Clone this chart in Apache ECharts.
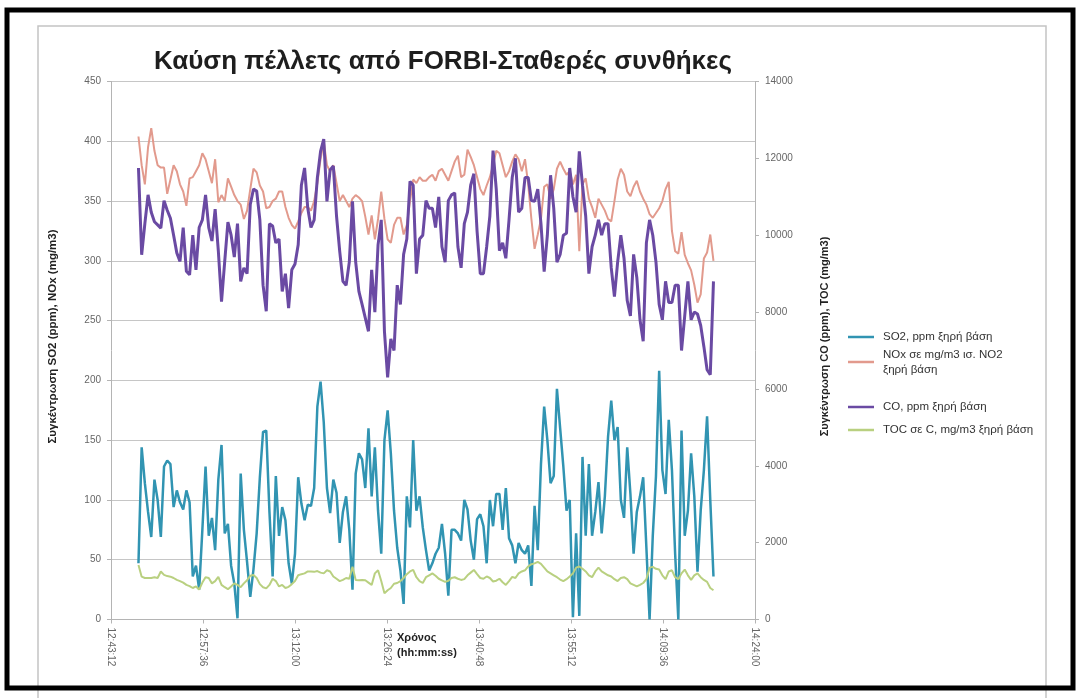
<!DOCTYPE html>
<html>
<head>
<meta charset="utf-8">
<script src="https://cdn.jsdelivr.net/npm/echarts@6/dist/echarts.min.js"></script>
<style>
  html, body { margin: 0; padding: 0; background: #ffffff; }
  #chart { width: 1080px; height: 698px; }
</style>
</head>
<body>
<div id="chart"></div>
<script>
// Sampling: one reading every 30 s from 12:47:30
const START_SEC = 12 * 3600 + 47 * 60 + 30;
const STEP_SEC = 30;

// SO2, ppm (left axis)
const so2 = [
  47,144,114,90,69,117,100,69,128,133,
  130,94,108,98,92,108,98,36,45,25,
  75,128,70,85,58,117,146,72,80,45,
  30,1,122,75,48,19,42,72,119,157,
  158,90,36,120,70,94,83,47,30,55,
  119,97,83,96,95,110,178,199,165,110,
  89,117,106,64,90,103,75,25,122,139,
  134,110,160,103,144,91,55,150,175,139,
  91,60,41,13,103,77,150,91,103,77,
  58,41,47,55,60,80,55,20,75,75,
  72,66,100,92,66,50,84,88,78,47,
  100,78,105,105,75,110,68,62,47,64,
  58,55,62,28,95,58,130,178,150,114,
  120,193,160,128,91,100,2,72,3,136,
  70,130,70,90,115,72,103,153,183,150,
  161,100,85,144,105,55,90,103,119,60,
  0,70,120,208,125,105,167,125,55,0,
  158,70,91,139,103,40,91,125,170,100,
  36
];

// NOx, mg/m3 as NO2 (left axis)
const nox = [
  404,380,364,395,411,392,380,378,378,356,
  368,380,375,364,358,346,369,370,375,380,
  390,385,375,365,385,349,355,350,369,362,
  355,350,347,335,342,360,377,374,363,358,
  344,345,350,352,358,358,345,336,330,327,
  333,340,345,345,342,350,365,385,400,380,
  375,380,365,350,355,350,345,352,355,353,
  350,337,322,338,318,335,358,335,318,315,
  330,336,336,322,330,350,368,365,370,367,
  367,370,372,367,375,377,372,367,375,383,
  388,370,372,393,387,380,370,360,355,363,
  370,380,392,390,380,370,375,383,389,385,
  375,385,364,335,310,322,335,362,364,352,
  360,377,383,377,372,375,364,372,308,364,
  369,352,345,336,352,347,342,335,333,350,
  368,377,372,358,354,362,367,358,352,347,
  339,336,340,344,350,360,366,325,308,306,
  324,305,298,292,280,265,272,302,307,322,
  300
];

// CO, ppm (right axis)
const co = [
  11750,9490,10300,11050,10600,10350,10270,10185,10900,10650,
  10440,10000,9540,9320,10200,9060,8970,10000,9100,10200,
  10400,11050,10200,9850,10680,9590,8270,9320,10340,10000,
  9430,10300,8800,9150,9000,10800,11200,11150,10400,8700,
  8020,10300,10240,9800,9900,8535,9000,8100,9100,9250,
  9750,11300,11750,10700,10200,10400,11500,12180,12500,10880,
  11700,11800,10500,9580,8800,8700,9300,10880,9300,8540,
  8200,7850,7500,9100,8000,9750,10400,7500,6300,7300,
  7000,8700,8200,9500,9900,11400,11300,9000,9900,10000,
  10900,10700,10700,10200,11000,9700,9300,10900,11050,11100,
  9700,9150,10300,10600,11300,11600,10100,9000,9000,9700,
  10500,12200,11200,9600,9800,9400,10400,11500,12000,10600,
  10700,11500,11500,10900,10880,11200,10300,9050,10000,11560,
  10700,9300,9500,10000,10050,11750,11000,10600,12180,11300,
  10500,9000,9700,10000,10400,10000,10300,10300,9150,8400,
  9300,10000,9400,8300,7900,9500,8900,7800,7240,9800,
  10400,10000,9300,8200,7800,8800,8250,8250,8700,8700,
  7000,7900,8800,7800,8000,7950,7650,7100,6500,6370,
  8800
];

// TOC as C, mg/m3 (right axis)
const toc = [
  1418,1115,1080,1080,1080,1100,1080,1250,1160,1130,
  1115,1080,1030,1000,960,900,870,820,860,780,
  960,1100,1080,940,1000,1110,900,840,790,860,
  940,900,840,940,1020,1140,1160,1080,920,840,
  810,900,1060,1000,860,900,820,850,920,1000,
  1150,1180,1200,1250,1250,1240,1260,1220,1200,1280,
  1250,1120,1060,1000,1030,1080,1060,1370,1030,1020,
  1030,1020,960,900,1200,1280,1000,680,760,820,
  930,950,1000,1080,1180,1250,1290,1100,1000,950,
  1100,1150,1200,1140,1060,1020,980,1010,1080,1100,
  1060,1030,1050,1150,1220,1290,1180,1080,1060,1120,
  1080,990,1010,1060,970,900,1000,1110,1080,1200,
  1250,1280,1380,1440,1460,1500,1450,1350,1250,1200,
  1150,1100,1040,1000,1050,1120,1200,1350,1380,1320,
  1250,1150,1100,1250,1350,1250,1200,1150,1120,1050,
  1000,1080,1100,1050,940,900,860,900,950,1050,
  1350,1370,1320,1300,1150,1050,1250,1280,1100,1050,
  1200,1300,1150,1030,1150,1200,1100,1030,980,820,
  760
];

// Time axis: 12:43:12 to 14:24:00, a tick every 14:24
const X_MIN = 12 * 3600 + 43 * 60 + 12;
const X_MAX = 14 * 3600 + 24 * 60;
const X_INTERVAL = 14 * 60 + 24;

const LEFT_MAX = 450, LEFT_INTERVAL = 50;
const RIGHT_MAX = 14000, RIGHT_INTERVAL = 2000;

const seriesNames = [
  'SO2, ppm ξηρή βάση',
  'NOx σε mg/m3 ισ. NO2 ξηρή βάση',
  'CO, ppm ξηρή βάση',
  'TOC σε C, mg/m3 ξηρή βάση'
];
const seriesColors = ['#3194b2', '#e29a8d', '#6a4aa3', '#b9d080'];

const times = so2.map((_, k) => START_SEC + k * STEP_SEC);
const pairs = arr => arr.map((v, k) => [times[k], v]);

function hms(sec) {
  const h = Math.floor(sec / 3600);
  const m = Math.floor((sec % 3600) / 60);
  const s = Math.round(sec % 60);
  const p = n => String(n).padStart(2, '0');
  return h + ':' + p(m) + ':' + p(s);
}

const FONT = '"Liberation Sans", Arial, sans-serif';
const axisGrey = '#b4b4b4';

function legendAt(name, top, fmt) {
  return {
    data: [name],
    orient: 'vertical',
    left: 848,
    top: top,
    padding: 0,
    icon: 'rect',
    itemWidth: 26,
    itemHeight: 2.5,
    itemGap: 0,
    selectedMode: false,
    textStyle: { fontFamily: FONT, fontSize: 11.5, color: '#333', lineHeight: 15, padding: [0, 0, 0, 4] },
    formatter: fmt || (n => n)
  };
}

const chart = echarts.init(document.getElementById('chart'), null, { renderer: 'canvas' });

chart.setOption({
  backgroundColor: '#ffffff',
  animation: false,
  title: {
    text: 'Καύση πέλλετς από FORBI-Σταθερές συνθήκες',
    left: 438,
    top: 44,
    textAlign: 'center',
    textStyle: { fontFamily: FONT, fontSize: 26, fontWeight: 'bold', color: '#1e1e1e' }
  },
  graphic: [
    {
      type: 'rect', silent: true, z: -1,
      shape: { x: 38, y: 26, width: 1008, height: 690 },
      style: { fill: 'none', stroke: '#c4c4c4', lineWidth: 1.5 }
    },
    {
      type: 'rect', silent: true, z: 100,
      shape: { x: 7, y: 10, width: 1066, height: 678 },
      style: { fill: 'none', stroke: '#000000', lineWidth: 5 }
    }
  ],
  legend: [
    legendAt(seriesNames[0], 329.5),
    legendAt(seriesNames[1], 347, () => 'NOx σε mg/m3 ισ. NO2\nξηρή βάση'),
    legendAt(seriesNames[2], 399.5),
    legendAt(seriesNames[3], 422.5)
  ],
  grid: { left: 111, right: 325, top: 81.5, bottom: 78.5, containLabel: false },
  xAxis: {
    type: 'value',
    min: X_MIN,
    max: X_MAX,
    interval: X_INTERVAL,
    name: '{n|Χρόνος}\n{n|(hh:mm:ss)}',
    nameLocation: 'middle',
    nameGap: 11,
    nameMoveOverlap: false,
    nameTextStyle: {
      verticalAlign: 'top',
      rich: {
        n: { fontFamily: FONT, fontSize: 11, fontWeight: 'bold', color: '#222', lineHeight: 15, width: 72, align: 'left' }
      }
    },
    axisLine: { show: true, lineStyle: { color: axisGrey, width: 1 } },
    axisTick: { show: true, length: 4, lineStyle: { color: axisGrey } },
    splitLine: { show: false },
    axisLabel: {
      rotate: -90,
      margin: 8,
      fontFamily: FONT,
      fontSize: 10,
      color: '#666',
      formatter: v => hms(v)
    }
  },
  yAxis: [
    {
      type: 'value',
      min: 0,
      max: LEFT_MAX,
      interval: LEFT_INTERVAL,
      name: 'Συγκέντρωση SO2 (ppm), NOx (mg/m3)',
      nameLocation: 'middle',
      nameGap: 52,
      nameRotate: 90,
      nameMoveOverlap: false,
      nameTextStyle: { fontFamily: FONT, fontSize: 11.5, fontWeight: 'bold', color: '#222', padding: [0, 0, 0, 28] },
      axisLine: { show: true, lineStyle: { color: axisGrey, width: 1 } },
      axisTick: { show: true, length: 4, lineStyle: { color: axisGrey } },
      splitLine: { show: true, lineStyle: { color: '#c6c6c6', width: 1.2 } },
      axisLabel: { fontFamily: FONT, fontSize: 10, color: '#666', margin: 10, formatter: v => String(v) }
    },
    {
      type: 'value',
      min: 0,
      max: RIGHT_MAX,
      interval: RIGHT_INTERVAL,
      position: 'right',
      name: 'Συγκέντρωση CO (ppm), TOC (mg/m3)',
      nameLocation: 'middle',
      nameGap: 64,
      nameRotate: 90,
      nameMoveOverlap: false,
      nameTextStyle: { fontFamily: FONT, fontSize: 11, fontWeight: 'bold', color: '#222', padding: [0, 0, 0, 28] },
      axisLine: { show: true, lineStyle: { color: axisGrey, width: 1 } },
      axisTick: { show: true, length: 4, lineStyle: { color: axisGrey } },
      splitLine: { show: false },
      axisLabel: { fontFamily: FONT, fontSize: 10, color: '#666', margin: 10, formatter: v => String(v) }
    }
  ],
  series: [
    {
      name: seriesNames[0], type: 'line', yAxisIndex: 0, data: pairs(so2),
      symbol: 'none', color: seriesColors[0],
      lineStyle: { color: seriesColors[0], width: 2.5 }, z: 2
    },
    {
      name: seriesNames[1], type: 'line', yAxisIndex: 0, data: pairs(nox),
      symbol: 'none', color: seriesColors[1],
      lineStyle: { color: seriesColors[1], width: 2 }, z: 3
    },
    {
      name: seriesNames[2], type: 'line', yAxisIndex: 1, data: pairs(co),
      symbol: 'none', color: seriesColors[2],
      lineStyle: { color: seriesColors[2], width: 3 }, z: 4
    },
    {
      name: seriesNames[3], type: 'line', yAxisIndex: 1, data: pairs(toc),
      symbol: 'none', color: seriesColors[3],
      lineStyle: { color: seriesColors[3], width: 2 }, z: 5
    }
  ]
});
</script>
</body>
</html>
